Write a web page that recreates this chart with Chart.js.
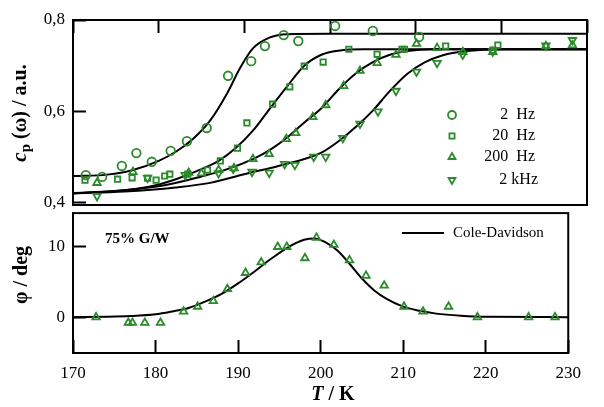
<!DOCTYPE html>
<html>
<head>
<meta charset="utf-8">
<script src="https://cdn.jsdelivr.net/npm/chart.js@4.4.1/dist/chart.umd.min.js"></script>
<style>
  body { margin: 0; background: #fff; width: 604px; height: 407px; overflow: hidden; position: relative; }
  canvas { position: absolute; left: 0; }
</style>
</head>
<body>
<canvas id="top_chart" width="604" height="230" style="top:0"></canvas>
<canvas id="bottom_chart" width="604" height="200" style="top:207px"></canvas>
<script>
// measured points, top panel (cp)
const t2Hz = [171.5, 173.4, 175.7, 177.4, 179.2, 181.4, 183.3, 185.6, 188.1, 190.8, 192.4, 194.6, 196.3, 200.6, 205.0, 210.4];
const cp2Hz = [0.461, 0.457, 0.481, 0.509, 0.490, 0.514, 0.535, 0.564, 0.678, 0.710, 0.743, 0.767, 0.754, 0.787, 0.776, 0.763];

const t20Hz = [171.4, 175.2, 176.9, 178.7, 179.7, 180.7, 181.3, 183.4, 185.7, 187.2, 189.2, 190.3, 193.3, 195.3, 197.0, 199.2, 202.2, 205.5, 208.4, 208.7, 213.5, 219.0, 219.6];
const cp20Hz = [0.450, 0.452, 0.455, 0.454, 0.450, 0.459, 0.463, 0.463, 0.472, 0.492, 0.520, 0.575, 0.616, 0.654, 0.699, 0.708, 0.736, 0.725, 0.736, 0.736, 0.743, 0.734, 0.745];

const t200Hz = [172.8, 177.0, 183.5, 185.0, 187.0, 188.8, 191.0, 192.9, 194.9, 196.0, 198.0, 199.5, 201.6, 203.5, 205.5, 207.7, 210.1, 212.5, 215.5, 219.0, 225.2, 228.3];
const cp200Hz = [0.444, 0.468, 0.466, 0.465, 0.472, 0.476, 0.496, 0.507, 0.540, 0.553, 0.588, 0.614, 0.656, 0.689, 0.706, 0.724, 0.748, 0.739, 0.730, 0.730, 0.743, 0.745];

const t2kHz = [172.8, 178.7, 183.1, 187.0, 188.7, 190.9, 192.9, 194.7, 195.9, 198.1, 199.5, 201.5, 203.5, 205.6, 207.7, 210.1, 212.5, 215.5, 219.0, 225.2, 228.3];
const cp2kHz = [0.415, 0.455, 0.461, 0.465, 0.475, 0.468, 0.466, 0.485, 0.483, 0.501, 0.501, 0.542, 0.573, 0.600, 0.645, 0.687, 0.706, 0.724, 0.731, 0.744, 0.756];

// fit curves
const fitT2Hz = [170, 174, 177, 180, 182, 184, 186, 188, 189.5, 191, 193, 195, 200, 230];
const fitCp2Hz = [0.459, 0.462, 0.472, 0.492, 0.512, 0.540, 0.580, 0.640, 0.695, 0.738, 0.762, 0.769, 0.770, 0.770];

const fitT20Hz = [170, 175, 179, 182, 185, 187, 189, 191, 193, 195, 197, 199, 201, 204, 230];
const fitCp20Hz = [0.422, 0.426, 0.436, 0.452, 0.474, 0.492, 0.520, 0.558, 0.607, 0.655, 0.700, 0.724, 0.733, 0.736, 0.736];

const fitT200Hz = [170, 176, 181, 185, 188, 191, 193, 195, 197, 199, 201, 203, 205, 207, 209, 212, 230];
const fitCp200Hz = [0.421, 0.428, 0.440, 0.458, 0.474, 0.496, 0.516, 0.543, 0.576, 0.607, 0.648, 0.683, 0.708, 0.724, 0.732, 0.736, 0.736];

const fitT2kHz = [170, 176, 182, 186, 190, 194, 197, 199, 201, 203, 205, 207, 209, 211, 213, 216, 220, 230];
const fitCp2kHz = [0.421, 0.425, 0.434, 0.444, 0.463, 0.481, 0.496, 0.510, 0.535, 0.566, 0.602, 0.645, 0.682, 0.707, 0.722, 0.732, 0.736, 0.736];

// bottom panel (phase)
const tPhi = [172.8, 176.7, 177.2, 178.7, 180.6, 183.4, 185.1, 187.0, 188.7, 190.9, 192.8, 194.8, 195.9, 198.1, 199.5, 201.6, 203.5, 205.5, 207.7, 210.1, 212.4, 215.5, 219.0, 225.2, 228.4];
const phi = [0, -0.8, -0.8, -0.8, -0.8, 0.8, 1.5, 2.3, 4.0, 6.3, 7.8, 10.0, 10.0, 8.4, 11.3, 10.3, 8.1, 5.9, 4.5, 1.5, 0.8, 1.5, 0, 0, 0];

const fitTPhi = [170, 174, 177, 180, 182, 184, 186, 188, 190, 192, 194, 196, 198, 199.3, 200.5, 202, 203.5, 205, 206.5, 208, 210, 212, 214, 217, 220, 230];
const fitPhi = [0, 0.05, 0.15, 0.4, 0.8, 1.3, 2.2, 3.3, 4.8, 6.5, 8.3, 9.9, 11.0, 11.2, 10.7, 9.5, 7.6, 5.5, 3.8, 2.6, 1.5, 0.9, 0.5, 0.2, 0.05, 0];

const xTicks = [170, 180, 190, 200, 210, 220, 230];
const cpTicks = [0.4, 0.6, 0.8];
const phiTicks = [0, 10];
const legendLabels = ['2  Hz', '20  Hz', '200  Hz', '2 kHz'];

const green = '#2b8a2b';
const serif = "'Liberation Serif', 'DejaVu Serif', serif";

function pts(xs, ys) {
  return xs.map((x, i) => ({ x: x, y: ys[i] }));
}

function markers(label, xs, ys, style, rotation) {
  return {
    label: label,
    data: pts(xs, ys),
    pointStyle: style,
    rotation: rotation || 0,
    pointRadius: style === 'rect' ? 3.8 : 4.3,
    borderColor: green,
    backgroundColor: 'rgba(0,0,0,0)',
    pointBorderWidth: 1.8,
    showLine: false
  };
}

function curve(xs, ys) {
  return {
    data: pts(xs, ys),
    showLine: true,
    pointRadius: 0,
    borderColor: '#000',
    borderWidth: 2,
    cubicInterpolationMode: 'monotone'
  };
}

// tick marks drawn by Chart.js itself, pointing into the plot (negative length)
const inwardTicks = {
  display: true,
  drawOnChartArea: false,
  drawTicks: true,
  tickLength: -13,
  tickColor: '#000',
  tickWidth: 2
};

function drawRich(ctx, parts, x, y, rotate) {
  ctx.save();
  ctx.translate(x, y);
  if (rotate) ctx.rotate(-Math.PI / 2);
  ctx.fillStyle = '#000';
  ctx.textBaseline = 'middle';
  ctx.textAlign = 'left';
  let total = 0;
  parts.forEach(p => { ctx.font = p.font; total += ctx.measureText(p.text).width; });
  let cx = -total / 2;
  parts.forEach(p => {
    ctx.font = p.font;
    ctx.fillText(p.text, cx, p.dy || 0);
    cx += ctx.measureText(p.text).width;
  });
  ctx.restore();
}

function drawBox(chart) {
  const ctx = chart.ctx;
  const a = chart.chartArea;
  ctx.save();
  ctx.strokeStyle = '#000';
  ctx.lineWidth = 2;
  ctx.strokeRect(a.left, a.top, a.right - a.left, a.bottom - a.top);
  ctx.restore();
}

const topDecor = {
  id: 'topDecor',
  afterDraw(chart) {
    drawBox(chart);
    const ctx = chart.ctx;
    drawRich(ctx, [
      { text: 'c', font: 'italic bold 21px ' + serif },
      { text: 'p', font: 'bold 15px ' + serif, dy: 5 },
      { text: ' (ω) / a.u.', font: 'bold 20px ' + serif }
    ], 21, 113, true);

    const styles = [['circle', 0], ['rect', 0], ['triangle', 0], ['triangle', 180]];
    const rows = [115, 136, 157, 180];
    ctx.save();
    ctx.strokeStyle = green;
    ctx.fillStyle = 'rgba(0,0,0,0)';
    ctx.lineWidth = 1.8;
    styles.forEach((s, i) => {
      Chart.helpers.drawPoint(ctx, {
        pointStyle: s[0], rotation: s[1], radius: s[0] === 'rect' ? 3.6 : 4, borderWidth: 1.8
      }, 452, rows[i]);
    });
    ctx.restore();
    ctx.save();
    ctx.font = '16px ' + serif;
    ctx.fillStyle = '#000';
    ctx.textAlign = 'right';
    ctx.textBaseline = 'middle';
    legendLabels.forEach((t, i) => ctx.fillText(t, i === 3 ? 538 : 535, rows[i]));
    ctx.restore();
  }
};

const bottomDecor = {
  id: 'bottomDecor',
  afterDraw(chart) {
    drawBox(chart);
    const ctx = chart.ctx;
    drawRich(ctx, [{ text: 'φ / deg', font: 'bold 20px ' + serif }], 22, 68, true);
    drawRich(ctx, [
      { text: 'T', font: 'italic bold 20px ' + serif },
      { text: ' / K', font: 'bold 20px ' + serif }
    ], 333, 188, false);
    ctx.save();
    ctx.fillStyle = '#000';
    ctx.textBaseline = 'middle';
    ctx.font = 'bold 15px ' + serif;
    ctx.fillText('75% G/W', 105, 32);
    ctx.font = '15px ' + serif;
    ctx.fillText('Cole-Davidson', 453, 26);
    ctx.fillRect(402, 25, 42, 2);
    ctx.restore();
  }
};

function yAxis(min, max, ticks, fmt) {
  return {
    type: 'linear',
    min: min,
    max: max,
    afterFit(s) { s.width = 73; s.paddingTop = 0; s.paddingBottom = 0; },
    afterBuildTicks(s) { s.ticks = ticks.map(v => ({ value: v })); },
    grid: inwardTicks,
    border: { display: false },
    ticks: { callback: fmt, color: '#000', padding: 21, font: { family: serif, size: 17 } }
  };
}

const topChart = new Chart(document.getElementById('top_chart'), {
  type: 'scatter',
  data: {
    datasets: [
      markers('2 Hz', t2Hz, cp2Hz, 'circle'),
      markers('20 Hz', t20Hz, cp20Hz, 'rect'),
      markers('200 Hz', t200Hz, cp200Hz, 'triangle'),
      markers('2 kHz', t2kHz, cp2kHz, 'triangle', 180),
      curve(fitT2Hz, fitCp2Hz),
      curve(fitT20Hz, fitCp20Hz),
      curve(fitT200Hz, fitCp200Hz),
      curve(fitT2kHz, fitCp2kHz)
    ]
  },
  options: {
    responsive: false,
    animation: false,
    layout: { padding: { top: 20, right: 17, bottom: 25, left: 0 } },
    scales: {
      x: {
        type: 'linear',
        position: 'top',
        min: 170,
        max: 230,
        afterFit(s) { s.height = 0; s.paddingLeft = 0; s.paddingRight = 0; },
        afterBuildTicks(s) { s.ticks = xTicks.map(v => ({ value: v })); },
        grid: inwardTicks,
        border: { display: false },
        ticks: { display: false }
      },
      y: yAxis(0.3956, 0.8, cpTicks, v => v.toFixed(1).replace('.', ','))
    },
    plugins: { legend: { display: false }, tooltip: { enabled: false } }
  },
  plugins: [topDecor]
});

const bottomChart = new Chart(document.getElementById('bottom_chart'), {
  type: 'scatter',
  data: {
    datasets: [
      markers('phase', tPhi, phi, 'triangle'),
      curve(fitTPhi, fitPhi)
    ]
  },
  options: {
    responsive: false,
    animation: false,
    layout: { padding: { top: 1, right: 17, bottom: 0, left: 0 } },
    scales: {
      x: {
        type: 'linear',
        min: 170,
        max: 230,
        afterFit(s) { s.height = 54; },
        afterBuildTicks(s) { s.ticks = xTicks.map(v => ({ value: v })); },
        grid: inwardTicks,
        border: { display: false },
        ticks: { color: '#000', padding: 23, maxRotation: 0, font: { family: serif, size: 17 } }
      },
      y: yAxis(-5.1, 14.8, phiTicks, v => String(v))
    },
    plugins: { legend: { display: false }, tooltip: { enabled: false } }
  },
  plugins: [bottomDecor]
});
</script>
</body>
</html>
